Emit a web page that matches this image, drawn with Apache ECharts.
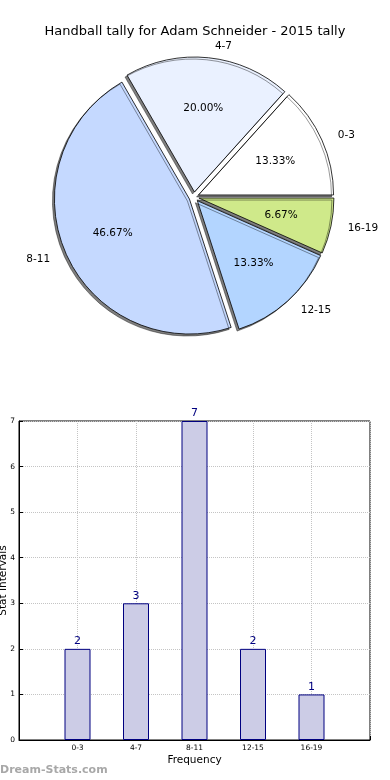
<!DOCTYPE html>
<html>
<head>
<meta charset="utf-8">
<script src="https://cdn.jsdelivr.net/npm/echarts@6/dist/echarts.min.js"></script>
<style>
html,body{margin:0;padding:0;background:#fff;}
#chart{width:390px;height:780px;}
</style>
</head>
<body>
<div id="chart"></div>
<script>
var titleText = 'Handball tally for Adam Schneider - 2015 tally';
var categories = ['0-3', '4-7', '8-11', '12-15', '16-19'];
var frequencies = [2, 3, 7, 2, 1];
var sliceColors = ['#ffffff', '#eaf1ff', '#c5d9ff', '#b3d5ff', '#cfe98a'];
var yTicks = [0, 1, 2, 3, 4, 5, 6, 7];
var xAxisName = 'Frequency';
var yAxisName = 'Stat Intervals';
var watermark = 'Dream-Stats.com';

var FONT = 'DejaVu Sans';
var total = frequencies.reduce(function (a, b) { return a + b; }, 0);

var pieData = categories.map(function (c, i) {
  return { name: c, value: frequencies[i], selected: true, itemStyle: { color: sliceColors[i] } };
});
var pieLabelData = categories.map(function (c, i) {
  return { name: c, value: frequencies[i], selected: true };
});
var barData = categories.map(function (c, i) { return [i, frequencies[i]]; });

var R = 135;
var chart = echarts.init(document.getElementById('chart'), null, { renderer: 'canvas' });
chart.setOption({
  animation: false,
  backgroundColor: '#ffffff',
  textStyle: { fontFamily: FONT },
  title: {
    text: titleText, left: 'center', top: 20,
    textStyle: { fontFamily: FONT, fontSize: 13, fontWeight: 'normal', color: '#000' }
  },
  graphic: [{
    type: 'text', left: 0, top: 765,
    style: { text: watermark, fontFamily: FONT, fontSize: 11, fontWeight: 'bold', fill: '#a8a8a8' }
  }],
  grid: {
    left: 19, right: 20, top: 421, bottom: 40,
    containLabel: false, outerBoundsMode: 'none',
    show: true, borderColor: '#000', borderWidth: 1, backgroundColor: 'transparent'
  },
  xAxis: {
    type: 'value', min: -1, max: 5, interval: 1,
    name: xAxisName, nameLocation: 'middle', nameGap: 15, nameMoveOverlap: false,
    nameTextStyle: { fontFamily: FONT, fontSize: 10.5, color: '#000' },
    axisLine: { show: true, onZero: false, lineStyle: { color: '#000' } },
    axisTick: { show: true, inside: true, length: 4, lineStyle: { color: '#000' } },
    axisLabel: {
      fontFamily: FONT, fontSize: 7.5, color: '#000', margin: 4,
      formatter: function (v) { return categories[v] !== undefined ? categories[v] : ''; }
    },
    splitLine: { show: true, lineStyle: { type: 'dotted', color: '#c4c4c4', width: 1 } }
  },
  yAxis: {
    type: 'value', min: yTicks[0], max: yTicks[yTicks.length - 1], interval: 1,
    name: yAxisName, nameLocation: 'middle', nameGap: 10, nameRotate: 90, nameMoveOverlap: false,
    nameTextStyle: { fontFamily: FONT, fontSize: 10.5, color: '#000' },
    axisLine: { show: true, onZero: false, lineStyle: { color: '#000' } },
    axisTick: { show: true, inside: true, length: 4, lineStyle: { color: '#000' } },
    axisLabel: { fontFamily: FONT, fontSize: 7.5, color: '#000', margin: 4 },
    splitLine: { show: true, lineStyle: { type: 'dotted', color: '#c4c4c4', width: 1 } }
  },
  series: [
    {
      type: 'pie',
      center: [194, 197],
      radius: [0, R],
      startAngle: 0,
      clockwise: false,
      selectedMode: 'multiple',
      selectedOffset: 5,
      avoidLabelOverlap: false,
      silent: true,
      data: pieData,
      itemStyle: {
        borderColor: '#000', borderWidth: 0.8,
        shadowColor: 'rgba(0,0,0,0.5)', shadowBlur: 0, shadowOffsetX: -2, shadowOffsetY: 2
      },
      label: {
        show: true, position: 'outside', formatter: '{b}',
        fontFamily: FONT, fontSize: 10.5, color: '#000'
      },
      labelLine: { show: false, length: 12, length2: 0 },
      emphasis: { disabled: true }
    },
    {
      type: 'pie',
      center: [194, 197],
      radius: [0, R * 1.2],
      startAngle: 0,
      clockwise: false,
      selectedMode: 'multiple',
      selectedOffset: 5,
      silent: true,
      z: 5,
      data: pieLabelData,
      itemStyle: { color: 'rgba(0,0,0,0)', borderWidth: 0 },
      label: {
        show: true, position: 'inside',
        formatter: function (p) { return (p.value / total * 100).toFixed(2) + '%'; },
        fontFamily: FONT, fontSize: 10.5, color: '#000'
      },
      labelLine: { show: false },
      emphasis: { disabled: true }
    },
    {
      type: 'bar',
      data: barData,
      barWidth: 26,
      itemStyle: { color: '#ccccE6', borderColor: '#000080', borderWidth: 1 },
      label: { show: true, position: 'top', distance: 2, fontFamily: FONT, fontSize: 11, color: '#000080' },
      emphasis: { disabled: true }
    }
  ]
});
</script>
</body>
</html>
